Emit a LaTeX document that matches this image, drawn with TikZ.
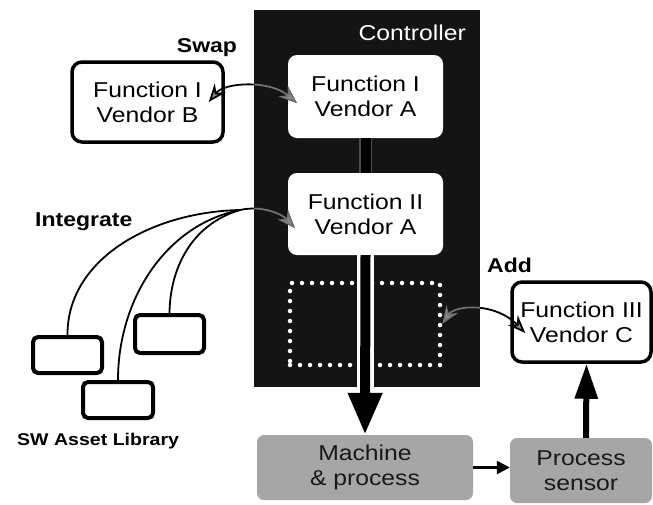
\documentclass[tikz,border=0pt]{standalone}
\usepackage{fontspec}
\setmainfont[FakeStretch=1.15]{Liberation Sans}
\usetikzlibrary{arrows.meta}
\begin{document}
\begin{tikzpicture}[x=1pt,y=-1pt,
  txt/.style={font=\fontsize{21.5}{25}\selectfont, align=center},
  ctrlbg/.style={fill=black!92, draw=none, inner sep=0pt},
  wbox/.style={txt, fill=white, rounded corners=9pt, inner sep=0pt},
  bbox/.style={txt, fill=white, draw=black, line width=3.5pt, rounded corners=10pt, inner sep=0pt},
  gbox/.style={txt, fill=black!35, text=black!90, rounded corners=7pt, inner sep=0pt},
  libbox/.style={draw=black, line width=4pt, rounded corners=5pt, fill=white, inner sep=0pt},
  lbl/.style={font=\bfseries\fontsize{20}{24}\selectfont, inner sep=0pt},
  slotbox/.style={draw=white, line width=4.5pt, dash pattern=on 0pt off 10pt, line cap=round, inner sep=0pt},
  link/.style={line width=1.8pt},
  twohead/.style={link, {Stealth[length=18pt,width=14pt,fill=black!45]}-{Stealth[length=18pt,width=14pt,fill=black!45]}},
  onehead/.style={link, -{Stealth[length=18pt,width=14pt,fill=black!45]}},
  bigarrow/.style={line width=10pt, -{Triangle[length=42pt,width=32pt]}},
]
\useasboundingbox (0,0) rectangle (653,504);

% controller
\node[ctrlbg, minimum width=226, minimum height=377] (ctrl) at (367,198.5) {};
\node[txt, text=white, anchor=base east, inner sep=0pt] (ctrltxt) at (466,40) {Controller};

\node[wbox, minimum width=155, minimum height=83] (fa) at (365.5,96.5) {Function I\\Vendor A};
\node[wbox, minimum width=155, minimum height=82] (fb) at (365.5,214) {Function II\\Vendor A};
\node[slotbox, minimum width=150, minimum height=82] (slot) at (365,324) {};

% outside boxes
\node[bbox, minimum width=151, minimum height=80] (vb) at (147.5,102) {Function I\\Vendor B};
\node[bbox, minimum width=139, minimum height=80] (f3) at (581.5,322) {Function III\\Vendor C};
\node[gbox, minimum width=216, minimum height=65] (mach) at (365,467.5) {Machine\\\& process};
\node[gbox, minimum width=142, minimum height=65] (ps) at (581,470.5) {Process\\sensor};

\node[libbox, minimum width=69, minimum height=36] (lib1) at (67.5,355) {};
\node[libbox, minimum width=70, minimum height=36] (lib2) at (118,400) {};
\node[libbox, minimum width=69, minimum height=38] (lib3) at (169.5,334) {};

% labels
\node[lbl, anchor=base] (swap) at (207,52) {Swap};
\node[lbl, anchor=base west] (integ) at (35,226) {Integrate};
\node[lbl, anchor=base west] (add) at (487,272) {Add};
\node[font=\bfseries\fontsize{17}{20}\selectfont, anchor=base west, inner sep=0pt] (swlib) at (17,445) {SW Asset Library};

% main flow arrow
\draw[black!70, line width=13pt] (fa.south) -- (fb.north);
\draw[black, line width=10pt] (fa.south) -- (fb.north);
\draw[white, line width=17pt] (fb.south) -- (fb.south |- ctrl.south);
\draw[bigarrow] (fb.south) -- (mach.north);

% integrate
\coordinate (J) at (240,210);
\draw[link] (lib1.north) .. controls (67,260) and (150,212) .. (J);
\draw[link] (lib2.north) .. controls (118,300) and (165,225) .. (J);
\draw[link] (lib3.north) .. controls (170,270) and (190,225) .. (J);
\draw[onehead] (J) .. controls (262,205) and (282,214) .. ([xshift=7pt,yshift=-14pt]fb.west);

% swap and add
\draw[twohead] ([xshift=-16pt]vb.east) .. controls (225,82) and (270,80) .. ([xshift=9pt,yshift=-6.5pt]fa.west);
\draw[twohead] (slot.east) .. controls (455,305) and (495,302) .. ([xshift=15pt,yshift=-11pt]f3.west);

% grey parts of the links inside the controller
\begin{scope}
\clip (ctrl.north west) rectangle (ctrl.south east);
\draw[onehead, black!55] (J) .. controls (262,205) and (282,214) .. ([xshift=7pt,yshift=-14pt]fb.west);
\draw[twohead, black!55] ([xshift=-16pt]vb.east) .. controls (225,82) and (270,80) .. ([xshift=9pt,yshift=-6.5pt]fa.west);
\draw[twohead, black!55] (slot.east) .. controls (455,305) and (495,302) .. ([xshift=15pt,yshift=-11pt]f3.west);
\end{scope}

% process arrows
\draw[line width=2.5pt, -{Triangle[length=13pt,width=13pt]}] (mach.east) -- (mach.east -| ps.west);
\draw[line width=6pt, -{Triangle[length=35pt,width=22pt]}] ([xshift=5pt]ps.north) -- ([xshift=5pt]f3.south);
\end{tikzpicture}
\end{document}
